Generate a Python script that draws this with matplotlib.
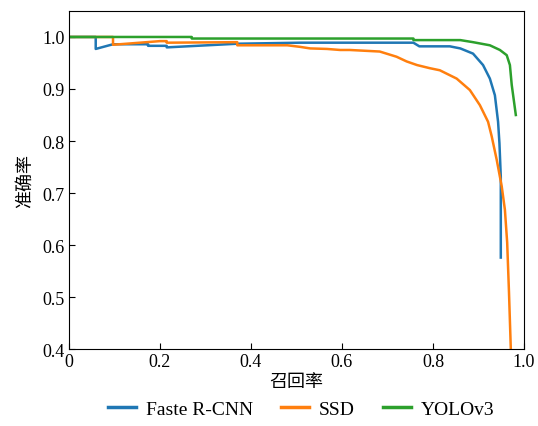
import matplotlib.pyplot as plt

plt.rcParams['font.family'] = ['Liberation Serif', 'Noto Sans CJK SC']

# Faste R-CNN
recall_frcnn = [0, 0.059, 0.059, 0.097, 0.174, 0.174, 0.215, 0.215, 0.37, 0.508,
                0.757, 0.77, 0.837, 0.86, 0.888, 0.91, 0.925, 0.936, 0.943, 0.946,
                0.949, 0.949]
precision_frcnn = [1.0, 1.0, 0.977, 0.986, 0.986, 0.983, 0.983, 0.980, 0.987, 0.989,
                   0.989, 0.982, 0.982, 0.978, 0.968, 0.946, 0.92, 0.888, 0.837, 0.796,
                   0.731, 0.576]

# SSD
recall_ssd = [0, 0.097, 0.097, 0.2, 0.215, 0.215, 0.37, 0.37, 0.48, 0.508, 0.53,
              0.567, 0.596, 0.617, 0.683, 0.72, 0.742, 0.765, 0.793, 0.815, 0.852,
              0.881, 0.903, 0.921, 0.929, 0.94, 0.951, 0.958, 0.963, 0.967, 0.971]
precision_ssd = [1.0, 1.0, 0.985, 0.992, 0.992, 0.989, 0.990, 0.984, 0.984, 0.981,
                 0.978, 0.977, 0.975, 0.975, 0.972, 0.962, 0.953, 0.946, 0.94, 0.936,
                 0.92, 0.898, 0.869, 0.837, 0.809, 0.764, 0.713, 0.668, 0.605, 0.509,
                 0.40]

# YOLOv3
recall_yolo = [0, 0.27, 0.27, 0.757, 0.757, 0.86, 0.888, 0.925, 0.947, 0.962,
               0.969, 0.973, 0.982]
precision_yolo = [1.0, 1.0, 0.997, 0.997, 0.994, 0.994, 0.99, 0.984, 0.975, 0.965,
                  0.946, 0.908, 0.85]

fig = plt.figure(figsize=(5.38, 4.27), dpi=100)
ax = fig.add_axes([0.128, 0.180, 0.846, 0.792])

ax.plot(recall_frcnn, precision_frcnn, color='#1f77b4', lw=1.8, label='Faste R-CNN')
ax.plot(recall_ssd, precision_ssd, color='#ff7f0e', lw=1.8, label='SSD')
ax.plot(recall_yolo, precision_yolo, color='#2ca02c', lw=1.8, label='YOLOv3')

ax.set_xlim(0, 1.0)
ax.set_ylim(0.4, 1.05)
ax.set_xticks([0, 0.2, 0.4, 0.6, 0.8, 1.0])
ax.set_xticklabels(['0', '0.2', '0.4', '0.6', '0.8', '1.0'])
ax.set_yticks([0.4, 0.5, 0.6, 0.7, 0.8, 0.9, 1.0])
ax.tick_params(direction='in', length=4, labelsize=13, pad=3)

ax.set_xlabel('召回率', fontsize=13, family=['Noto Sans CJK SC'], labelpad=1)
ax.set_ylabel('准确率', fontsize=13, family=['Noto Sans CJK SC'], labelpad=6)

leg = ax.legend(loc='center', bbox_to_anchor=(0.51, -0.178), ncol=3, frameon=False,
                fontsize=14, handlelength=1.45, handletextpad=0.5,
                columnspacing=1.45, borderaxespad=0)
for line in leg.get_lines():
    line.set_linewidth(2.5)

plt.savefig('out.png', dpi=100)
